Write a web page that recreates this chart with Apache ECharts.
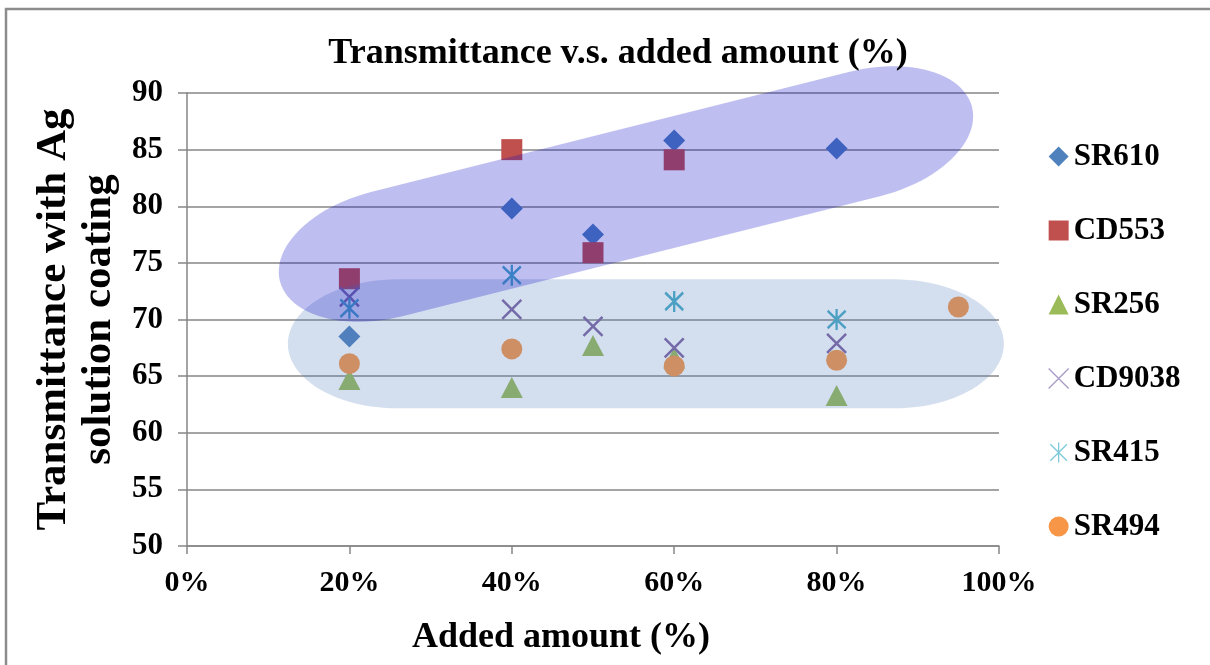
<!DOCTYPE html>
<html>
<head>
<meta charset="utf-8">
<script src="https://cdn.jsdelivr.net/npm/echarts@6/dist/echarts.min.js"></script>
<style>
  html, body { margin: 0; padding: 0; background: #ffffff; }
  #chart { width: 1210px; height: 665px; }
</style>
</head>
<body>
<div id="chart"></div>
<script>
// Added amount (fraction) and transmittance (%) for each coating
const seriesNames = ['SR610', 'CD553', 'SR256', 'CD9038', 'SR415', 'SR494'];

const sr610Amount = [0.2, 0.4, 0.5, 0.6, 0.8];
const sr610Values = [68.5, 79.8, 77.5, 85.8, 85.1];

const cd553Amount = [0.2, 0.4, 0.5, 0.6];
const cd553Values = [73.6, 85.0, 75.9, 84.1];

const sr256Amount = [0.2, 0.4, 0.5, 0.6, 0.8];
const sr256Values = [64.7, 64.0, 67.7, 66.6, 63.3];

const cd9038Amount = [0.2, 0.4, 0.5, 0.6, 0.8];
const cd9038Values = [72.0, 70.9, 69.4, 67.5, 67.9];

const sr415Amount = [0.2, 0.4, 0.6, 0.8];
const sr415Values = [71.0, 73.9, 71.6, 70.0];

const sr494Amount = [0.2, 0.4, 0.6, 0.8, 0.95];
const sr494Values = [66.1, 67.4, 65.9, 66.4, 71.1];

// Highlight bands around the two groups of coatings (axis tips in data units)
const highGroupBand = { from: [0.1144, 73.4], to: [0.9668, 88.76] };
const lowGroupBand = { from: [0.1242, 67.85], to: [1.006, 67.85] };

const FONT = "'Liberation Serif', 'Times New Roman', serif";

function pairs(xs, ys) {
  return xs.map((x, i) => [x, ys[i]]);
}

const crossPath = 'path://M0,0L10,10M10,0L0,10';
const starPath = 'path://M0,1L10,11M10,1L0,11M5,0L5,12';

// Translucent rounded band drawn along the segment from band.from to band.to
function bandRenderer(band, halfWidth, capLength, fill) {
  return function (params, api) {
    const a = api.coord(band.from);
    const b = api.coord(band.to);
    const dx = b[0] - a[0], dy = b[1] - a[1];
    const L = Math.hypot(dx, dy);
    const ux = dx / L, uy = dy / L;
    const nx = -uy, ny = ux;
    const pts = [];
    const N = 48;
    for (let i = 0; i <= N; i++) {
      const t = -Math.PI / 2 + Math.PI * i / N;
      const u = L - capLength + capLength * Math.cos(t);
      const v = halfWidth * Math.sin(t);
      pts.push([a[0] + ux * u + nx * v, a[1] + uy * u + ny * v]);
    }
    for (let i = 0; i <= N; i++) {
      const t = Math.PI / 2 + Math.PI * i / N;
      const u = capLength + capLength * Math.cos(t);
      const v = halfWidth * Math.sin(t);
      pts.push([a[0] + ux * u + nx * v, a[1] + uy * u + ny * v]);
    }
    return {
      type: 'polygon',
      shape: { points: pts },
      style: { fill: fill }
    };
  };
}

const chart = echarts.init(document.getElementById('chart'), null, { renderer: 'canvas' });

const option = {
  backgroundColor: '#ffffff',
  animation: false,
  title: {
    text: 'Transmittance v.s. added amount (%)',
    left: 613,
    top: 31,
    textAlign: 'center',
    textStyle: { fontFamily: FONT, fontWeight: 'bold', fontSize: 36, color: '#000' }
  },
  legend: {
    orient: 'vertical',
    left: 1043,
    top: 136,
    itemWidth: 20,
    itemHeight: 20,
    itemGap: 43,
    data: [
      'SR610',
      'CD553',
      'SR256',
      { name: 'CD9038', itemStyle: { borderColor: '#A99BC8', borderWidth: 1.3 } },
      { name: 'SR415', itemStyle: { borderColor: '#7FC9DB', borderWidth: 1.3 } },
      'SR494'
    ],
    textStyle: { fontFamily: FONT, fontWeight: 'bold', fontSize: 31, color: '#000', lineHeight: 31 }
  },
  grid: { left: 187, right: 211, top: 93, bottom: 119, containLabel: false },
  xAxis: {
    type: 'value',
    min: 0,
    max: 1,
    interval: 0.2,
    name: 'Added amount (%)',
    nameLocation: 'middle',
    nameGap: 74,
    nameTextStyle: { fontFamily: FONT, fontWeight: 'bold', fontSize: 36, color: '#000', padding: [0, 64, 0, 0] },
    axisLine: { show: true, lineStyle: { color: '#868686', width: 1.5 } },
    axisTick: { show: true, length: 8, lineStyle: { color: '#868686', width: 1.5 } },
    splitLine: { show: false },
    axisLabel: {
      margin: 22,
      fontFamily: FONT, fontWeight: 'bold', fontSize: 30, color: '#000',
      formatter: v => Math.round(v * 100) + '%'
    }
  },
  yAxis: {
    type: 'value',
    min: 50,
    max: 90,
    interval: 5,
    name: 'Transmittance with Ag\nsolution coating',
    nameLocation: 'middle',
    nameGap: 64,
    nameTextStyle: { fontFamily: FONT, fontWeight: 'bold', fontSize: 43, color: '#000', lineHeight: 45 },
    axisLine: { show: true, lineStyle: { color: '#868686', width: 1.5 } },
    axisTick: { show: true, length: 9, lineStyle: { color: '#868686', width: 1.5 } },
    splitLine: { show: true, lineStyle: { color: '#868686', width: 1.5 } },
    axisLabel: { margin: 24, fontFamily: FONT, fontWeight: 'bold', fontSize: 31, color: '#000' }
  },
  series: [
    {
      name: 'SR610', type: 'scatter', z: 2,
      symbol: 'diamond', symbolSize: 22,
      itemStyle: { color: '#4F81BD', opacity: 1 },
      data: pairs(sr610Amount, sr610Values)
    },
    {
      name: 'CD553', type: 'scatter', z: 2,
      symbol: 'rect', symbolSize: 21,
      itemStyle: { color: '#C0504D', opacity: 1 },
      data: pairs(cd553Amount, cd553Values)
    },
    {
      name: 'SR256', type: 'scatter', z: 2,
      symbol: 'triangle', symbolSize: [22, 21],
      itemStyle: { color: '#9BBB59', opacity: 1 },
      data: pairs(sr256Amount, sr256Values)
    },
    {
      name: 'CD9038', type: 'scatter', z: 2,
      symbol: crossPath, symbolSize: 19,
      itemStyle: { color: 'rgba(0,0,0,0)', borderColor: '#8064A2', borderWidth: 2.5, opacity: 1 },
      data: pairs(cd9038Amount, cd9038Values)
    },
    {
      name: 'SR415', type: 'scatter', z: 2,
      symbol: starPath, symbolSize: [18, 21],
      itemStyle: { color: 'rgba(0,0,0,0)', borderColor: '#4BACC6', borderWidth: 2.5, opacity: 1 },
      data: pairs(sr415Amount, sr415Values)
    },
    {
      name: 'SR494', type: 'scatter', z: 2,
      symbol: 'circle', symbolSize: 21,
      itemStyle: { color: '#F79646', opacity: 1 },
      data: pairs(sr494Amount, sr494Values)
    },
    {
      type: 'custom', z: 5, silent: true, clip: false,
      renderItem: bandRenderer(lowGroupBand, 64.5, 110, 'rgba(79,123,187,0.25)'),
      data: [[0.5, 68]]
    },
    {
      type: 'custom', z: 6, silent: true, clip: false,
      renderItem: bandRenderer(highGroupBand, 64, 110, 'rgba(14,14,199,0.27)'),
      data: [[0.5, 80]]
    }
  ],
  graphic: [
    {
      type: 'rect', z: 100, silent: true,
      shape: { x: 6, y: 9, width: 1300, height: 800 },
      style: { fill: 'none', stroke: '#8c8c8c', lineWidth: 2.5 }
    }
  ]
};

chart.setOption(option);
</script>
</body>
</html>
